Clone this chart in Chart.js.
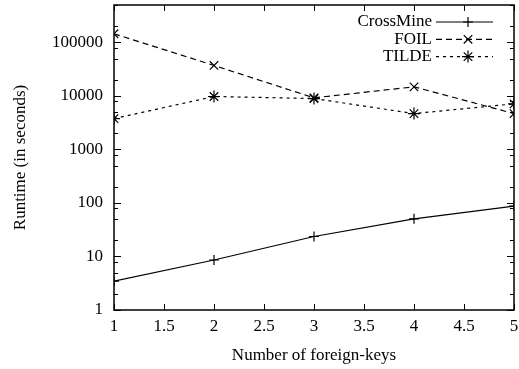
<!DOCTYPE html>
<html>
<head>
<meta charset="utf-8">
<script src="https://cdn.jsdelivr.net/npm/chart.js@4/dist/chart.umd.min.js"></script>
<style>
  html, body { margin: 0; padding: 0; background: #fff; }
  #wrap { width: 519px; height: 369px; }
</style>
</head>
<body>
<div id="wrap"><canvas id="myChart" width="519" height="369"></canvas></div>
<script>
// datos
const foreignKeys = [1, 2, 3, 4, 5];
const crossMine = [3.45, 8.6, 23.6, 50.6, 87.5];
const foil = [145000, 37100, 9200, 14800, 4680];
const tilde = [3770, 9750, 8940, 4680, 7110];
const yTickLabels = [1, 10, 100, 1000, 10000, 100000];

const serif = 'Liberation Serif';

function toPoints(values) {
    return foreignKeys.map((x, i) => ({ x: x, y: values[i] }));
}

// marco y marcas hacia dentro, como en gnuplot
const framePlugin = {
    id: 'frame',
    afterDatasetsDraw(chart) {
        const { ctx, chartArea: a, scales } = chart;
        ctx.save();
        ctx.strokeStyle = '#000';
        ctx.lineWidth = 1;
        ctx.beginPath();
        scales.x.ticks.forEach(t => {
            const px = Math.round(scales.x.getPixelForValue(t.value)) + 0.5;
            ctx.moveTo(px, a.bottom); ctx.lineTo(px, a.bottom - 6);
            ctx.moveTo(px, a.top); ctx.lineTo(px, a.top + 6);
        });
        yTickLabels.forEach(v => {
            const py = Math.round(scales.y.getPixelForValue(v)) + 0.5;
            ctx.moveTo(a.left, py); ctx.lineTo(a.left + 7, py);
            ctx.moveTo(a.right, py); ctx.lineTo(a.right - 7, py);
            [2, 5, 8].forEach(m => {
                const mv = v * m;
                if (mv > scales.y.max) return;
                const pm = Math.round(scales.y.getPixelForValue(mv)) + 0.5;
                ctx.moveTo(a.left, pm); ctx.lineTo(a.left + 4, pm);
                ctx.moveTo(a.right, pm); ctx.lineTo(a.right - 4, pm);
            });
        });
        ctx.stroke();
        ctx.lineWidth = 1.5;
        ctx.strokeRect(a.left, a.top, a.right - a.left, a.bottom - a.top);

        // leyenda dentro del area, texto alineado a la derecha
        ctx.font = '17px "' + serif + '"';
        ctx.fillStyle = '#000';
        ctx.textAlign = 'right';
        ctx.textBaseline = 'middle';
        chart.data.datasets.forEach((ds, i) => {
            const y = 22 + i * 17.3;
            ctx.fillText(ds.label, 432, y);
            ctx.lineWidth = 1.2;
            ctx.setLineDash(ds.borderDash || []);
            ctx.beginPath();
            ctx.moveTo(436, y); ctx.lineTo(493, y);
            ctx.stroke();
            ctx.setLineDash([]);
            Chart.helpers.drawPoint(ctx, {
                pointStyle: ds.pointStyle,
                radius: ds.pointRadius,
                rotation: 0,
                borderWidth: 1.2
            }, 468, y);
        });
        ctx.restore();
    }
};

const canvas = document.getElementById('myChart');
const myChart = new Chart(canvas.getContext('2d'), {
    type: 'line',
    data: {
        datasets: [
            {
                label: 'CrossMine',
                data: toPoints(crossMine),
                borderColor: '#000',
                borderWidth: 1.2,
                pointStyle: 'cross',
                pointRadius: 5,
                pointBorderWidth: 1.2,
                pointBorderColor: '#000'
            },
            {
                label: 'FOIL',
                data: toPoints(foil),
                borderColor: '#000',
                borderWidth: 1.2,
                borderDash: [6, 4],
                pointStyle: 'crossRot',
                pointRadius: 6,
                pointBorderWidth: 1.2,
                pointBorderColor: '#000'
            },
            {
                label: 'TILDE',
                data: toPoints(tilde),
                borderColor: '#000',
                borderWidth: 1.2,
                borderDash: [3, 4],
                pointStyle: 'star',
                pointRadius: 6,
                pointBorderWidth: 1.2,
                pointBorderColor: '#000'
            }
        ]
    },
    options: {
        responsive: false,
        animation: false,
        layout: { autoPadding: false, padding: { top: 5, right: 5, left: 0, bottom: 0 } },
        elements: { line: { tension: 0, fill: false } },
        scales: {
            x: {
                type: 'linear',
                min: 1,
                max: 5,
                grid: { display: false, drawTicks: false },
                border: { display: false },
                ticks: {
                    stepSize: 0.5,
                    color: '#000',
                    padding: 6,
                    maxRotation: 0,
                    font: { family: serif, size: 17 },
                    callback: v => String(v)
                },
                title: {
                    display: true,
                    text: 'Number of foreign-keys',
                    color: '#000',
                    padding: { top: 0, bottom: 3 },
                    font: { family: serif, size: 17 }
                },
                afterFit: s => { s.height = 59; s.paddingLeft = 0; s.paddingRight = 0; }
            },
            y: {
                type: 'logarithmic',
                min: 1,
                max: 500000,
                grid: { display: false, drawTicks: false },
                border: { display: false },
                afterBuildTicks: s => { s.ticks = yTickLabels.map(v => ({ value: v })); },
                ticks: {
                    color: '#000',
                    padding: 11,
                    font: { family: serif, size: 17 },
                    callback: v => String(v)
                },
                title: {
                    display: true,
                    text: 'Runtime (in seconds)',
                    color: '#000',
                    padding: { top: 10, bottom: 0 },
                    font: { family: serif, size: 17 }
                },
                afterFit: s => { s.width = 114; s.paddingTop = 0; s.paddingBottom = 0; }
            }
        },
        plugins: {
            legend: { display: false },
            tooltip: { enabled: false }
        }
    },
    plugins: [framePlugin]
});
</script>
</body>
</html>
